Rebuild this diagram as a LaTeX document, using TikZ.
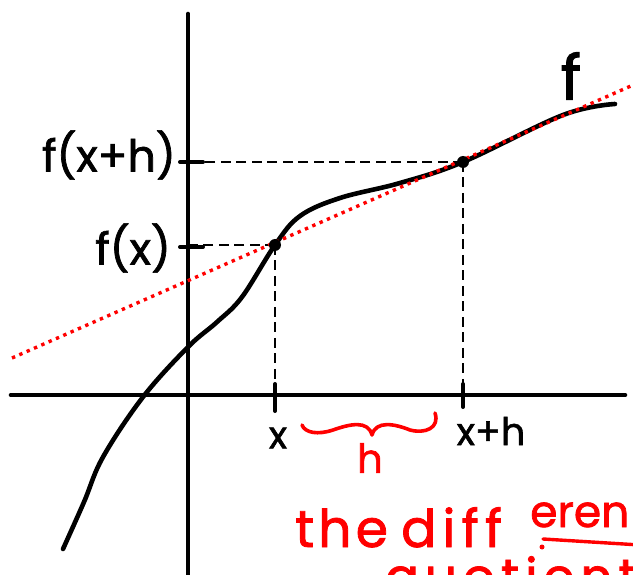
\documentclass[tikz,border=0pt]{standalone}
\usepackage{fontspec}
\setmainfont{Poppins}
\definecolor{inkred}{RGB}{255,0,0}
\tikzset{
  axisline/.style={line width=4.6pt, line cap=round},
  curveline/.style={line width=4.6pt, line cap=round, line join=round},
  guide/.style={line width=2.8pt, dash pattern=on 10pt off 5.5pt},
  secant/.style={inkred, line width=3.4pt, dash pattern=on 3.4pt off 4.6pt},
  tickline/.style={line width=4pt, line cap=round},
  bracepath/.style={inkred, line width=3.6pt, line cap=round, line join=round},
  lbl/.style={inner sep=0pt, font=\fontsize{44}{44}\selectfont\addfontfeature{FakeBold=1.6}},
  redlbl/.style={inner sep=0pt, text=inkred},
  pt/.style={circle, fill=black, inner sep=0pt, minimum size=12pt}
}
\begin{document}
\begin{tikzpicture}[x=1pt, y=-1pt]
\useasboundingbox (0,0) rectangle (633,575);
\clip (0,0) rectangle (633,575);
% axes
\coordinate (O) at (188,395);
\coordinate (ytop) at (188,14);
\coordinate (ybot) at (188,580);
\coordinate (xleft) at (11,395);
\coordinate (xright) at (625,395);
\draw[axisline] (ytop) -- (ybot);
\draw[axisline] (xleft) -- (xright);
% key points
\coordinate (A) at (275,245);
\coordinate (B) at (463,162);
% guides
\draw[guide] (A) -- (A -| O);
\draw[guide] (A) -- (A |- O);
\draw[guide] (B) -- (B -| O);
\draw[guide] (B) -- (B |- O);
% ticks
\coordinate (ta1) at (180,247); \coordinate (ta2) at (203,247);
\coordinate (tb1) at (180,162); \coordinate (tb2) at (203,162);
\coordinate (tx1) at (275,384); \coordinate (tx2) at (275,411);
\coordinate (th1) at (463,384); \coordinate (th2) at (463,407);
\draw[tickline] (ta1) -- (ta2);
\draw[tickline] (tb1) -- (tb2);
\draw[tickline] (tx1) -- (tx2);
\draw[tickline] (th1) -- (th2);
% curve
\draw[curveline] plot[smooth, tension=0.6] coordinates {
 (63,549) (84,502) (103,457) (143,397) (188,347) (217,322) (242,297)
 (275,245) (300,216) (340,198) (400,183) (463,162) (563,115) (615,104)};
% secant
\coordinate (s1) at (12,358);
\coordinate (s2) at (640,82);
\draw[secant] (s1) -- (s2);
% points
\node[pt] (Pa) at (A) {};
\node[pt] (Pb) at (B) {};
% labels
\node[lbl, anchor=east] (lfxh) at (176,155) {f(x+h)};
\node[lbl, anchor=east] (lfx) at (171,248) {f(x)};
\node[inner sep=0pt, font=\fontsize{62}{62}\selectfont\addfontfeature{FakeBold=1.6}] (lf) at (571,76) {f};
\node[inner sep=0pt, font=\fontsize{38}{38}\selectfont\addfontfeature{FakeBold=1.6}] (lx) at (278,438) {x};
\node[inner sep=0pt, font=\fontsize{38}{38}\selectfont\addfontfeature{FakeBold=1.6}] (lxh) at (491,431) {x+h};
% brace
\draw[bracepath] (302,425) .. controls (305,433) and (318,435) .. (333,430)
  .. controls (350,424) and (368,420) .. (372,435)
  .. controls (376,420) and (395,424) .. (410,430)
  .. controls (425,434) and (440,428) .. (435,413);
\node[redlbl, font=\fontsize{40}{40}\selectfont\addfontfeature{FakeBold=1.6}] (lh) at (370,458) {h};
% red handwriting
\node[redlbl, anchor=base west, font=\fontsize{52}{52}\selectfont\addfontfeature{LetterSpace=8,FakeBold=1.6}] (t1) at (295,547) {the};
\node[redlbl, anchor=base west, font=\fontsize{52}{52}\selectfont\addfontfeature{LetterSpace=12,FakeBold=1.6}] (t2) at (401,547) {diff};
\node[redlbl, anchor=base west, font=\fontsize{44}{44}\selectfont\addfontfeature{FakeBold=1.6}] (t3) at (530,527) {eren};
\coordinate (u1) at (543,539);
\coordinate (u2) at (640,545);
\draw[inkred, line width=3.4pt, line cap=round] (u1) -- (u2);
\fill[inkred] (542,547) circle (2.5pt);
\node[redlbl, anchor=north west, font=\fontsize{50}{50}\selectfont\addfontfeature{LetterSpace=12,FakeBold=1.6}] (t4) at (385,556) {quotient};
\end{tikzpicture}
\end{document}
